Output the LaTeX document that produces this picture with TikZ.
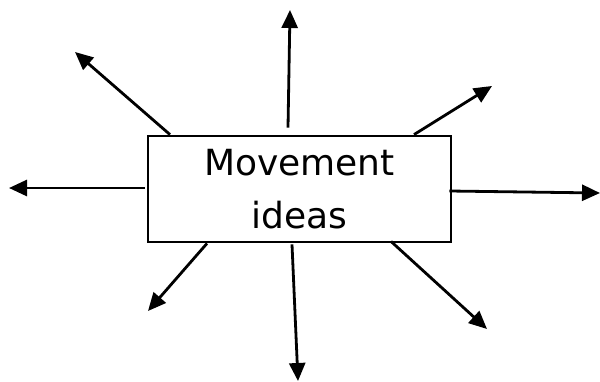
\documentclass[tikz,border=0pt]{standalone}
\usepackage{fontspec}
\setmainfont{DejaVu Sans}
\usetikzlibrary{arrows.meta}

\tikzset{
  ideabox/.style={draw, line width=2.8pt, minimum width=303pt, minimum height=106pt,
    inner sep=0pt, align=center, font=\fontsize{36}{53}\selectfont},
  spoke/.style={line width=2.8pt, -{Triangle[length=18pt, width=16pt]}}
}

\begin{document}
\begin{tikzpicture}[x=1pt, y=-1pt]
    \useasboundingbox (0,0) rectangle (600,381);
    % Centre box
    \node[ideabox] (box) at (299.5,189) {Movement\\ideas};
    % Arrow ends
    \coordinate (tipN) at (290,10);
    \coordinate (tipNW) at (75,52);
    \coordinate (tipNE) at (492,86);
    \coordinate (tipW) at (9,188);
    \coordinate (tipE) at (600,193);
    \coordinate (tipSW) at (148,311);
    \coordinate (tipS) at (298,381);
    \coordinate (tipSE) at (487,329);
    % Spokes
    \draw[spoke] ([xshift=-11.5pt, yshift=7pt]box.north) -- (tipN);
    \draw[spoke] ([xshift=-129.5pt]box.north) -- (tipNW);
    \draw[spoke] ([xshift=114.5pt]box.north) -- (tipNE);
    \draw[spoke] ([xshift=-2pt, yshift=1pt]box.west) -- (tipW);
    \draw[spoke] ([xshift=-3pt, yshift=-2pt]box.east) -- (tipE);
    \draw[spoke] ([xshift=-92.5pt]box.south) -- (tipSW);
    \draw[spoke] ([xshift=-7.5pt, yshift=-1pt]box.south) -- (tipS);
    \draw[spoke] ([xshift=91.5pt, yshift=2pt]box.south) -- (tipSE);
\end{tikzpicture}
\end{document}
